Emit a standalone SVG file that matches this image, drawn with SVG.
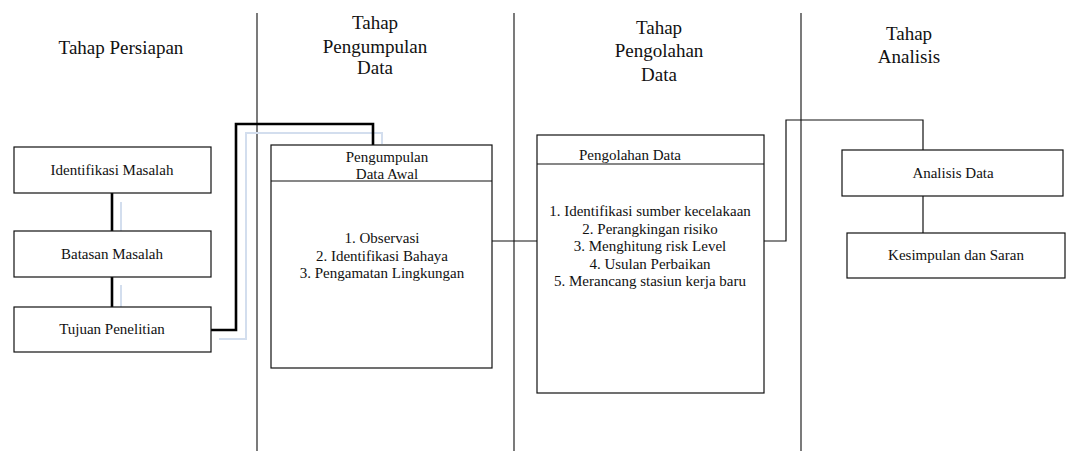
<svg xmlns="http://www.w3.org/2000/svg" width="1070" height="451" viewBox="0 0 1070 451">
<style>
text{font-family:'Liberation Serif',Tinos,'Times New Roman','DejaVu Serif',serif;fill:#111;text-anchor:middle}
.t{font-size:19px}
.b{font-size:15px}
.box{fill:#fff;stroke:#111;stroke-width:1.2}
.div{stroke:#222;stroke-width:1.2;fill:none}
.thin{stroke:#111;stroke-width:1.2;fill:none}
.thick{stroke:#000;stroke-width:2.6;fill:none}
.ghost{stroke:#d3deee;stroke-width:2;fill:none}
</style>
<rect width="1070" height="451" fill="#fff"/>
<g id="dividers">
<line class="div" x1="257" y1="13" x2="257" y2="451"/>
<line class="div" x1="514" y1="13" x2="514" y2="451"/>
<line class="div" x1="801" y1="13" x2="801" y2="451"/>
</g>
<g id="headings">
<text class="t" x="121" y="54">Tahap Persiapan</text>
<text class="t" x="375" y="29">Tahap</text>
<text class="t" x="375" y="53">Pengumpulan</text>
<text class="t" x="375" y="74">Data</text>
<text class="t" x="659" y="34">Tahap</text>
<text class="t" x="659" y="57">Pengolahan</text>
<text class="t" x="659" y="81">Data</text>
<text class="t" x="909" y="40">Tahap</text>
<text class="t" x="909" y="63">Analisis</text>
</g>
<g id="connectors">
<path class="ghost" d="M121 202V240M121 285V317"/>
<path class="ghost" d="M219 339H246V133H382V144"/>
<path class="thick" d="M112 193V231M112 277V307"/>
<path class="thick" d="M211 330H236V124H373V145"/>
<path class="thin" d="M492 241H537"/>
<path class="thin" d="M764 241H786V120H923V150"/>
<path class="thin" d="M923 196V233"/>
</g>
<g id="identifikasi-masalah">
<rect class="box" x="14" y="147" width="197" height="46"/>
<text class="b" x="112" y="175">Identifikasi Masalah</text>
</g>
<g id="batasan-masalah">
<rect class="box" x="14" y="231" width="197" height="46"/>
<text class="b" x="112" y="259">Batasan Masalah</text>
</g>
<g id="tujuan-penelitian">
<rect class="box" x="14" y="307" width="197" height="45"/>
<text class="b" x="112" y="334">Tujuan Penelitian</text>
</g>
<g id="pengumpulan-data-awal">
<rect class="box" x="271" y="145" width="221" height="223"/>
<line class="thin" x1="271" y1="181" x2="492" y2="181"/>
<text class="b" x="387" y="162">Pengumpulan</text>
<text class="b" x="387" y="179">Data Awal</text>
<text class="b" x="382" y="243">1. Observasi</text>
<text class="b" x="382" y="260.5">2. Identifikasi Bahaya</text>
<text class="b" x="382" y="278">3. Pengamatan Lingkungan</text>
</g>
<g id="pengolahan-data">
<rect class="box" x="537" y="135" width="227" height="258"/>
<line class="thin" x1="537" y1="164" x2="764" y2="164"/>
<text class="b" x="630" y="160">Pengolahan Data</text>
<text class="b" x="650" y="216">1. Identifikasi sumber kecelakaan</text>
<text class="b" x="650" y="233.5">2. Perangkingan risiko</text>
<text class="b" x="650" y="251">3. Menghitung risk Level</text>
<text class="b" x="650" y="268.5">4. Usulan Perbaikan</text>
<text class="b" x="650" y="286">5. Merancang stasiun kerja baru</text>
</g>
<g id="analisis-data">
<rect class="box" x="842" y="150" width="221" height="46"/>
<text class="b" x="953" y="178">Analisis Data</text>
</g>
<g id="kesimpulan-saran">
<rect class="box" x="847" y="233" width="218" height="45"/>
<text class="b" x="956" y="260">Kesimpulan dan Saran</text>
</g>
</svg>
